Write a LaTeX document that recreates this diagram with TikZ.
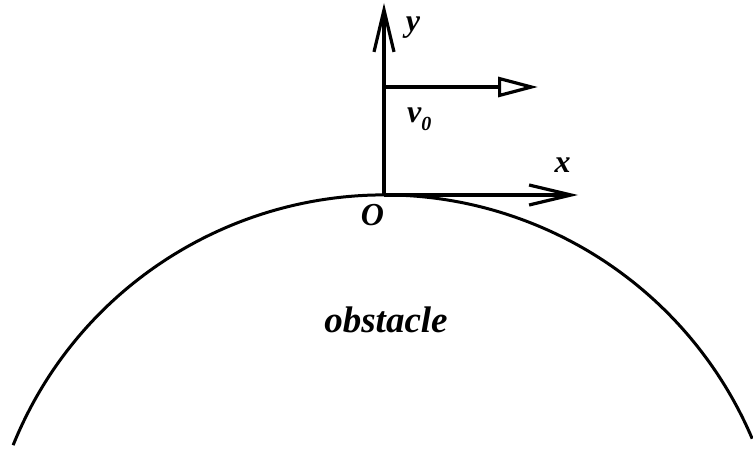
\documentclass[tikz,border=0pt]{standalone}
\usepackage{fontspec}
\setmainfont{Liberation Serif}
\usetikzlibrary{arrows.meta}
\tikzset{
  lbl/.style={font=\fontsize{32}{36}\selectfont\bfseries\itshape, inner sep=0pt, anchor=base},
  big/.style={font=\fontsize{37}{42}\selectfont\bfseries\itshape, inner sep=0pt, anchor=base},
  axis/.style={line width=3.2pt, -{Straight Barb[length=42pt,width=20pt,line width=3.2pt]}},
  vel/.style={line width=3.2pt, -{Triangle[open,length=40pt,width=20pt,line width=3.2pt]}},
  surf/.style={line width=3pt},
}
\begin{document}
\begin{tikzpicture}[x=1pt,y=1pt]
\useasboundingbox (0,0) rectangle (753,451);
\coordinate (O) at (384,256);
\coordinate (ytip) at (384,448);
\coordinate (xtip) at (578,256);
\coordinate (vs) at (384,364);
\coordinate (vt) at (538,364);
\coordinate (C) at (384,-144);
\draw[surf] ([shift={(158:400)}]C) arc[start angle=158, end angle=23, radius=400];
\draw[axis] (O) -- (ytip);
\draw[axis] (O) -- (xtip);
\draw[vel] (vs) -- (vt);
\node[lbl] (ylab) at (413,419) {y};
\node[lbl] (xlab) at (562.5,279) {x};
\node[lbl] (olab) at (372.5,226) {O};
\node[lbl, anchor=base west] (vlab) at (407,329) {v\raisebox{-8pt}{\fontsize{20}{24}\selectfont 0}};
\node[big] (obs) at (386,119) {obstacle};
\end{tikzpicture}
\end{document}
